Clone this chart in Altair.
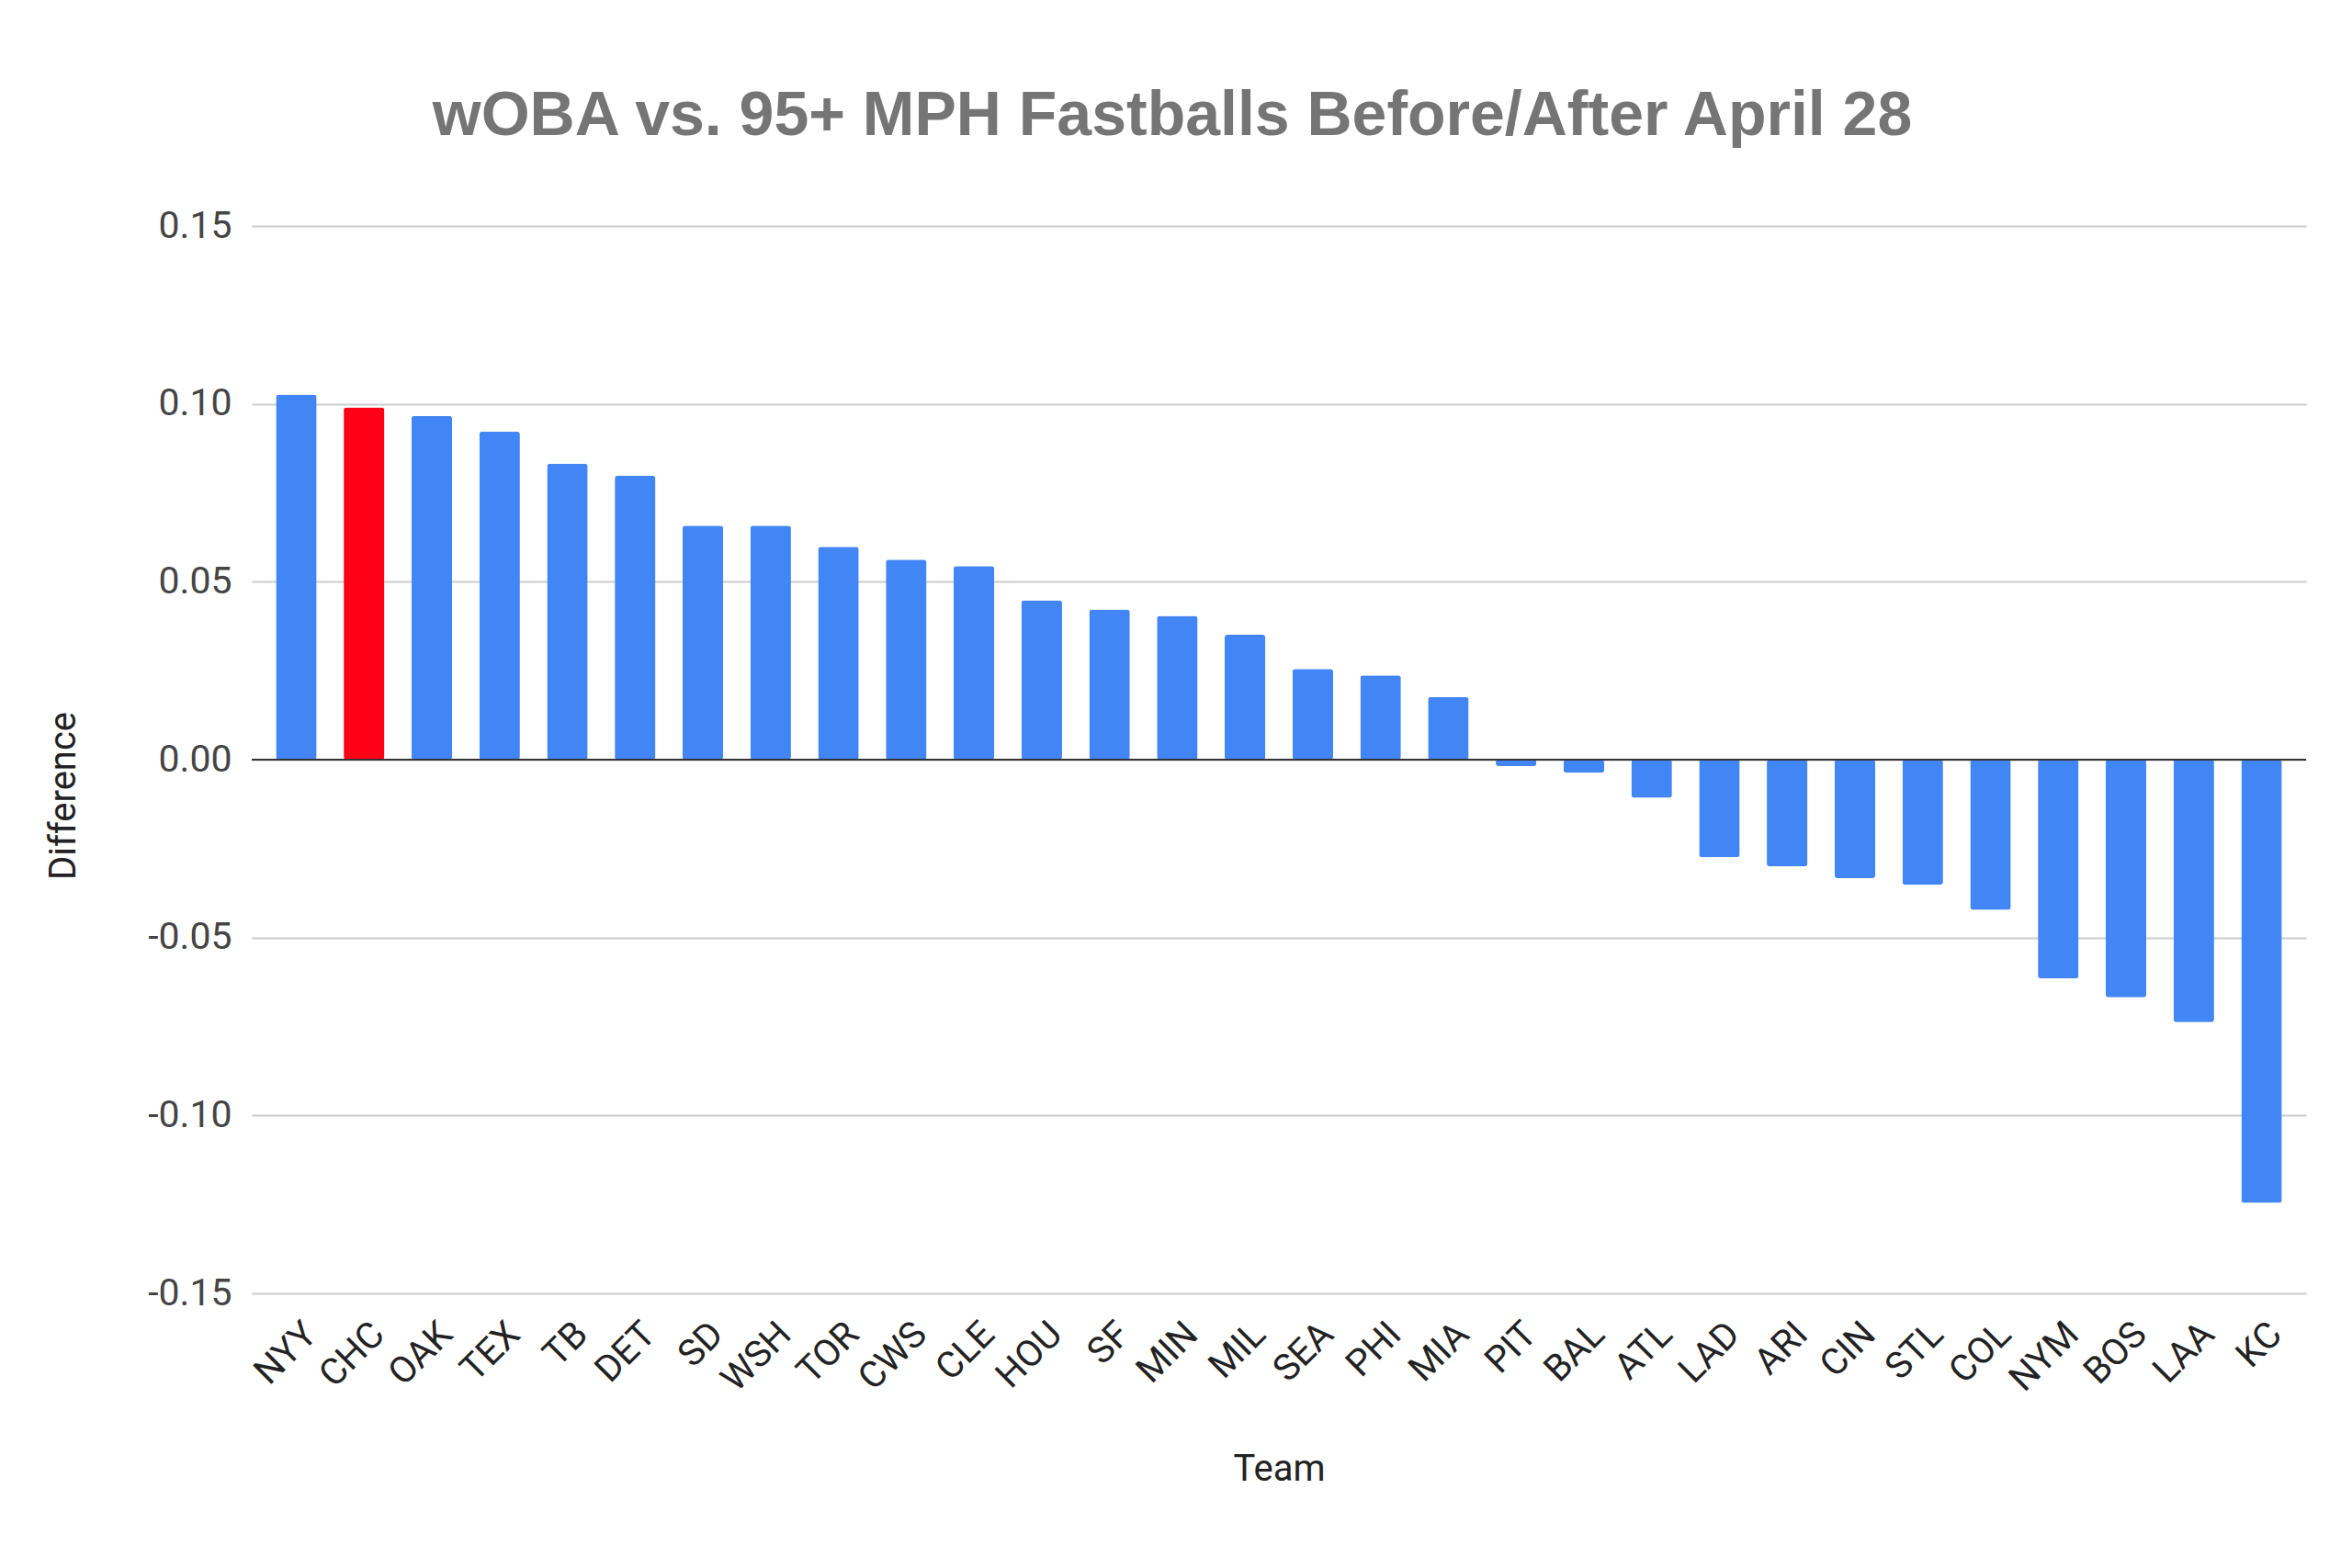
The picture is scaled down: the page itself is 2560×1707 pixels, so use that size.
import altair as alt
import pandas as pd

teams = ["NYY", "CHC", "OAK", "TEX", "TB", "DET", "SD", "WSH", "TOR", "CWS",
         "CLE", "HOU", "SF", "MIN", "MIL", "SEA", "PHI", "MIA", "PIT", "BAL",
         "ATL", "LAD", "ARI", "CIN", "STL", "COL", "NYM", "BOS", "LAA", "KC"]
diffs = [0.1026, 0.0990, 0.0966, 0.0922, 0.0832, 0.0798, 0.0658, 0.0658, 0.0598, 0.0562,
         0.0544, 0.0448, 0.0422, 0.0404, 0.0351, 0.0255, 0.0237, 0.0176, -0.0018, -0.0037,
         -0.0107, -0.0274, -0.0300, -0.0333, -0.0352, -0.0422, -0.0615, -0.0668, -0.0738, -0.1246]
highlight_team = "CHC"
y_ticks = [-0.15, -0.10, -0.05, 0.0, 0.05, 0.10, 0.15]

BLUE = "#4285f4"
RED = "#ff0016"

df = pd.DataFrame({
    "Team": teams,
    "Difference": diffs,
    "color": [RED if t == highlight_team else BLUE for t in teams],
})

bars = alt.Chart(df).mark_bar(cornerRadius=3).encode(
    x=alt.X(
        "Team:N",
        sort=teams,
        scale=alt.Scale(paddingInner=0.4, paddingOuter=0.357),
        axis=alt.Axis(
            labelAngle=315, labelAlign="right", labelBaseline="middle",
            labelPadding=38, labelOffset=16, labelFontSize=40, labelFont="Roboto",
            labelColor="#222222", ticks=False, domain=False, grid=False,
            labelOverlap=False,
            title="Team", titleFont="Roboto", titleFontSize=40, titleFontWeight="normal",
            titleColor="#222222", titleX=1118, titleY=203, titleAlign="center",
            titleBaseline="alphabetic",
        ),
    ),
    y=alt.Y(
        "Difference:Q",
        scale=alt.Scale(domain=[-0.15, 0.15], nice=False, zero=False),
        axis=alt.Axis(
            values=y_ticks,
            labelExpr="datum.value < -0.0001 ? '-' + format(-datum.value, '.2f') : format(abs(datum.value), '.2f')",
            grid=True, gridColor="#cccccc", gridWidth=2,
            domain=False, ticks=False, labelPadding=22, labelFontSize=41,
            labelFont="Roboto", labelColor="#444444",
            title="Difference", titleFont="Roboto", titleFontSize=40,
            titleFontWeight="normal", titleColor="#222222",
            titleX=-205, titleY=620, titleAngle=270, titleAlign="center",
            titleBaseline="middle",
        ),
    ),
    color=alt.Color("color:N", scale=None),
)

zero = alt.Chart(pd.DataFrame({"z": [0.0]})).mark_rule(color="#333333", strokeWidth=2).encode(
    y="z:Q"
)

chart = alt.layer(bars, zero).properties(
    width=2236,
    height=1162,
    autosize=alt.AutoSizeParams(type="none"),
    padding={"left": 266, "top": 238, "right": 40, "bottom": 280},
    background="white",
    title=alt.TitleParams(
        "wOBA vs. 95+ MPH Fastballs Before/After April 28",
        font="Liberation Sans", fontSize=68, fontWeight="bold", color="#757575",
        anchor="middle", dx=-116, offset=10, baseline="alphabetic",
    ),
).configure_view(stroke=None)

chart.save("out.html", embed_options={"renderer": "svg", "actions": False})
